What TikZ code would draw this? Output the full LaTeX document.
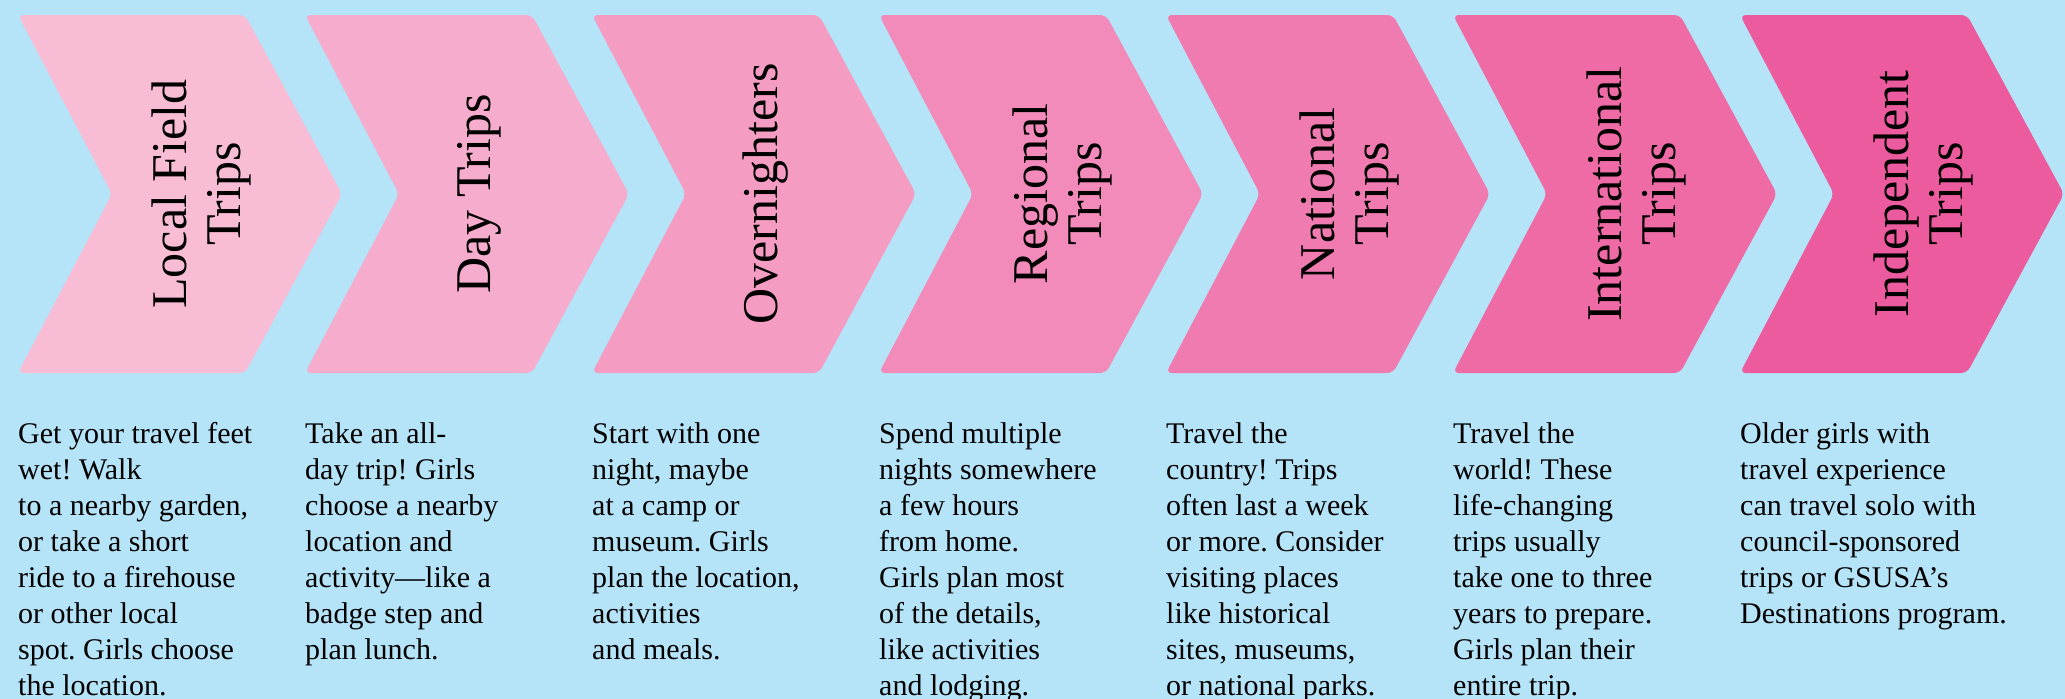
\documentclass[tikz,border=0pt]{standalone}
\usepackage{fontspec}
\setmainfont{Liberation Serif}
\frenchspacing
\definecolor{skyback}{RGB}{181, 227, 248}
\definecolor{pinka}{RGB}{248, 188, 213}
\definecolor{pinkb}{RGB}{246, 172, 204}
\definecolor{pinkc}{RGB}{244, 156, 194}
\definecolor{pinkd}{RGB}{242, 139, 185}
\definecolor{pinke}{RGB}{240, 123, 176}
\definecolor{pinkf}{RGB}{238, 107, 166}
\definecolor{pinkg}{RGB}{236, 91, 157}
\usepackage{tikz}
\usetikzlibrary{positioning}

\tikzset{
  steptitle/.style={rotate=90, align=center, inner sep=0pt, font=\fontsize{50}{54}\selectfont},
  stepnote/.style={anchor=north west, align=left, inner sep=0pt, font=\fontsize{30}{36}\selectfont},
}
% one chevron: left corner x, fill colour
\newcommand{\tripchevron}[2]{%
  \fill[#2, rounded corners=6pt] (#1,15) -- ++(227,0) -- ++(97,179) -- ++(-97,179) -- ++(-227,0) -- ++(94,-179) -- cycle;}

\begin{document}
\begin{tikzpicture}[x=1pt, y=-1pt]
  \fill[skyback] (0,0) rectangle (2065,699);
  \useasboundingbox (0,0) rectangle (2065,699);

  \tripchevron{18}{pinka}
  \tripchevron{305}{pinkb}
  \tripchevron{592}{pinkc}
  \tripchevron{879}{pinkd}
  \tripchevron{1166}{pinke}
  \tripchevron{1453}{pinkf}
  \tripchevron{1740}{pinkg}

  % titles
  \node[steptitle] (local) at (201,194) {Local Field\\Trips};
  \node[steptitle] (day) at (479,194) {Day Trips};
  \node[steptitle] (over) at (766,194) {Overnighters};
  \node[steptitle] (regional) at (1062,194) {Regional\\Trips};
  \node[steptitle] (national) at (1349,194) {National\\Trips};
  \node[steptitle] (intl) at (1636,194) {International\\Trips};
  \node[steptitle] (indep) at (1923,194) {Independent\\Trips};

  % notes below
  \node[stepnote] (localnote) at (18,418) {\strut Get your travel feet\\wet! Walk\\to a nearby garden,\\or take a short\\ride to a firehouse\\or other local\\spot. Girls choose\\the location.};
  \node[stepnote] (daynote) at (305,418) {\strut Take an all-\\day trip! Girls\\choose a nearby\\location and\\activity---like a\\badge step and\\plan lunch.};
  \node[stepnote] (overnote) at (592,418) {\strut Start with one\\night, maybe\\at a camp or\\museum. Girls\\plan the location,\\activities\\and meals.};
  \node[stepnote] (regionalnote) at (879,418) {\strut Spend multiple\\nights somewhere\\a few hours\\from home.\\Girls plan most\\of the details,\\like activities\\and lodging.};
  \node[stepnote] (nationalnote) at (1166,418) {\strut Travel the\\country! Trips\\often last a week\\or more. Consider\\visiting places\\like historical\\sites, museums,\\or national parks.};
  \node[stepnote] (intlnote) at (1453,418) {\strut Travel the\\world! These\\life-changing\\trips usually\\take one to three\\years to prepare.\\Girls plan their\\entire trip.};
  \node[stepnote] (indepnote) at (1740,418) {\strut Older girls with\\travel experience\\can travel solo with\\council-sponsored\\trips or GSUSA’s\\Destinations program.};
\end{tikzpicture}
\end{document}
